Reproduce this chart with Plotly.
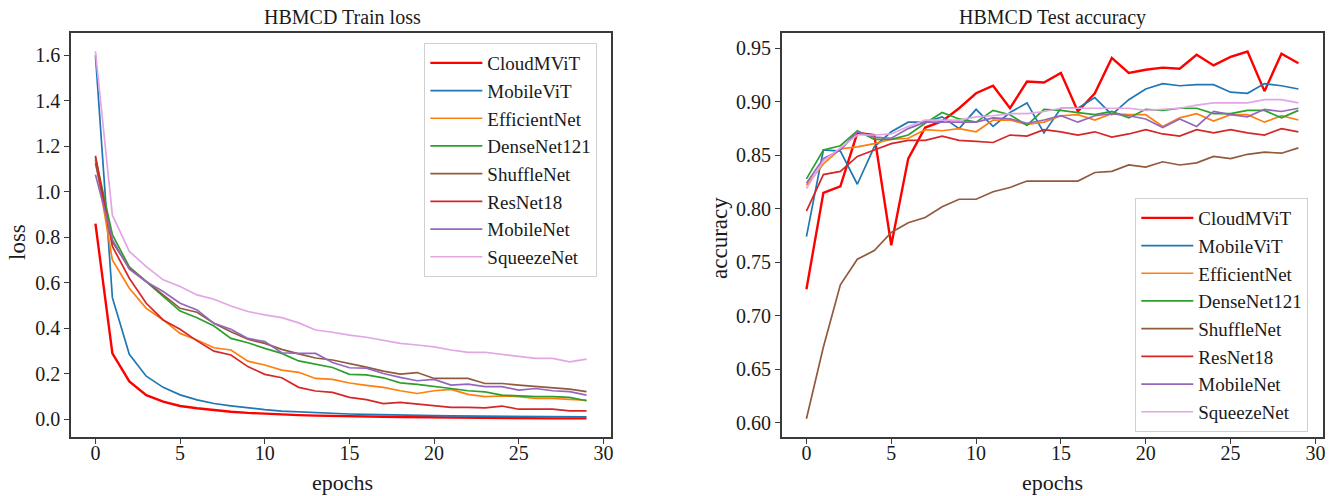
import plotly.graph_objects as go

W, H = 1341, 496

epochs = list(range(30))
model_names = ["CloudMViT", "MobileViT", "EfficientNet", "DenseNet121",
               "ShuffleNet", "ResNet18", "MobileNet", "SqueezeNet"]
colors = ["#ff0000", "#1f77b4", "#ff7f0e", "#2ca02c",
          "#925a3c", "#d62728", "#9467bd", "#e2a6e6"]

# ---- Train loss ----
loss_cloudmvit = [0.86, 0.29, 0.167, 0.107, 0.078, 0.059, 0.049, 0.040, 0.034, 0.029,
                  0.025, 0.022, 0.019, 0.017, 0.015, 0.014, 0.013, 0.012, 0.011, 0.010,
                  0.009, 0.008, 0.008, 0.007, 0.007, 0.006, 0.006, 0.005, 0.005, 0.005]
loss_mobilevit = [1.60, 0.535, 0.286, 0.19, 0.141, 0.108, 0.086, 0.070, 0.060, 0.050,
                  0.043, 0.037, 0.033, 0.029, 0.026, 0.024, 0.022, 0.020, 0.019, 0.018,
                  0.017, 0.016, 0.015, 0.014, 0.013, 0.013, 0.012, 0.012, 0.011, 0.011]
loss_efficientnet = [1.14, 0.70, 0.576, 0.488, 0.437, 0.378, 0.349, 0.315, 0.305, 0.256,
                     0.239, 0.217, 0.207, 0.180, 0.176, 0.160, 0.150, 0.141, 0.126, 0.114,
                     0.126, 0.132, 0.110, 0.100, 0.103, 0.100, 0.092, 0.092, 0.088, 0.085]
loss_densenet121 = [1.15, 0.811, 0.67, 0.605, 0.539, 0.476, 0.447, 0.41, 0.356, 0.337,
                    0.312, 0.29, 0.257, 0.244, 0.228, 0.198, 0.196, 0.183, 0.161, 0.154,
                    0.146, 0.136, 0.126, 0.121, 0.107, 0.103, 0.100, 0.100, 0.097, 0.082]
loss_shufflenet = [1.126, 0.78, 0.665, 0.605, 0.547, 0.488, 0.471, 0.422, 0.385, 0.352,
                   0.334, 0.308, 0.288, 0.27, 0.261, 0.246, 0.23, 0.212, 0.199, 0.206,
                   0.18, 0.18, 0.18, 0.158, 0.158, 0.151, 0.144, 0.139, 0.133, 0.122]
loss_resnet18 = [1.158, 0.76, 0.62, 0.51, 0.437, 0.396, 0.345, 0.30, 0.283, 0.232,
                 0.198, 0.183, 0.141, 0.125, 0.119, 0.097, 0.087, 0.07, 0.075, 0.067,
                 0.059, 0.053, 0.053, 0.051, 0.059, 0.045, 0.045, 0.045, 0.038, 0.038]
loss_mobilenet = [1.075, 0.79, 0.66, 0.605, 0.562, 0.51, 0.481, 0.422, 0.396, 0.356,
                  0.342, 0.293, 0.29, 0.29, 0.25, 0.227, 0.225, 0.202, 0.185, 0.17,
                  0.176, 0.151, 0.155, 0.144, 0.144, 0.129, 0.136, 0.126, 0.122, 0.107]
loss_squeezenet = [1.617, 0.897, 0.738, 0.671, 0.613, 0.584, 0.547, 0.528, 0.498, 0.474,
                   0.459, 0.447, 0.424, 0.393, 0.383, 0.37, 0.361, 0.346, 0.334, 0.327,
                   0.319, 0.305, 0.295, 0.295, 0.286, 0.28, 0.268, 0.268, 0.253, 0.265]

# ---- Test accuracy ----
acc_cloudmvit = [0.725, 0.815, 0.821, 0.871, 0.869, 0.766, 0.847, 0.876, 0.882, 0.894,
                 0.908, 0.915, 0.894, 0.919, 0.918, 0.927, 0.891, 0.908, 0.941, 0.927,
                 0.930, 0.932, 0.931, 0.944, 0.934, 0.942, 0.947, 0.910, 0.945, 0.936]
acc_mobilevit = [0.774, 0.855, 0.854, 0.823, 0.858, 0.872, 0.881, 0.881, 0.886, 0.875,
                 0.893, 0.877, 0.890, 0.899, 0.871, 0.894, 0.894, 0.904, 0.888, 0.902,
                 0.912, 0.917, 0.915, 0.916, 0.916, 0.909, 0.908, 0.917, 0.915, 0.912]
acc_efficientnet = [0.822, 0.842, 0.856, 0.858, 0.861, 0.865, 0.866, 0.874, 0.873, 0.875,
                    0.872, 0.883, 0.883, 0.879, 0.881, 0.887, 0.888, 0.883, 0.889, 0.888,
                    0.888, 0.877, 0.885, 0.889, 0.882, 0.888, 0.888, 0.881, 0.887, 0.883]
acc_densenet121 = [0.828, 0.855, 0.859, 0.873, 0.865, 0.865, 0.869, 0.880, 0.890, 0.884,
                   0.881, 0.892, 0.888, 0.878, 0.893, 0.892, 0.890, 0.888, 0.891, 0.885,
                   0.893, 0.892, 0.894, 0.894, 0.889, 0.889, 0.892, 0.892, 0.885, 0.892]
acc_shufflenet = [0.604, 0.671, 0.729, 0.753, 0.761, 0.778, 0.787, 0.792, 0.802, 0.809,
                  0.809, 0.816, 0.820, 0.826, 0.826, 0.826, 0.826, 0.834, 0.835, 0.841,
                  0.839, 0.844, 0.841, 0.843, 0.849, 0.847, 0.851, 0.853, 0.852, 0.857]
acc_resnet18 = [0.798, 0.832, 0.835, 0.849, 0.855, 0.861, 0.864, 0.864, 0.868, 0.864,
                0.863, 0.862, 0.869, 0.868, 0.874, 0.872, 0.869, 0.872, 0.867, 0.870,
                0.874, 0.870, 0.868, 0.874, 0.871, 0.874, 0.871, 0.869, 0.875, 0.872]
acc_mobilenet = [0.824, 0.847, 0.855, 0.872, 0.867, 0.866, 0.875, 0.881, 0.881, 0.881,
                 0.881, 0.885, 0.884, 0.880, 0.883, 0.887, 0.881, 0.887, 0.889, 0.887,
                 0.884, 0.876, 0.884, 0.877, 0.891, 0.888, 0.886, 0.893, 0.891, 0.894]
acc_squeezenet = [0.819, 0.845, 0.857, 0.869, 0.869, 0.870, 0.877, 0.883, 0.883, 0.883,
                  0.886, 0.887, 0.889, 0.889, 0.891, 0.894, 0.894, 0.894, 0.894, 0.894,
                  0.892, 0.893, 0.894, 0.897, 0.899, 0.899, 0.899, 0.902, 0.902, 0.899]

loss_series = [loss_cloudmvit, loss_mobilevit, loss_efficientnet, loss_densenet121,
               loss_shufflenet, loss_resnet18, loss_mobilenet, loss_squeezenet]
acc_series = [acc_cloudmvit, acc_mobilevit, acc_efficientnet, acc_densenet121,
              acc_shufflenet, acc_resnet18, acc_mobilenet, acc_squeezenet]

loss_ticks = [0.0, 0.2, 0.4, 0.6, 0.8, 1.0, 1.2, 1.4, 1.6]
acc_ticks = [0.60, 0.65, 0.70, 0.75, 0.80, 0.85, 0.90, 0.95]
epoch_ticks = [0, 5, 10, 15, 20, 25, 30]

FONT = "Liberation Serif"
TXT = "#1a1a1a"

fig = go.Figure()
for name, vals, col in zip(model_names, loss_series, colors):
    fig.add_trace(go.Scatter(x=epochs, y=vals, mode="lines", name=name,
                             line=dict(color=col, width=2.4 if name == "CloudMViT" else 1.7),
                             xaxis="x", yaxis="y", legend="legend"))
for name, vals, col in zip(model_names, acc_series, colors):
    fig.add_trace(go.Scatter(x=epochs, y=vals, mode="lines", name=name,
                             line=dict(color=col, width=2.4 if name == "CloudMViT" else 1.7),
                             xaxis="x2", yaxis="y2", legend="legend2"))

def px(x):
    return x / W

def py(y):
    return 1 - y / H

axis_common = dict(showline=True, mirror=True, linecolor="#3a3a3a", linewidth=1.5,
                   ticks="outside", ticklen=5, tickwidth=1.2, tickcolor="#3a3a3a",
                   showgrid=False, zeroline=False,
                   tickfont=dict(family=FONT, size=20, color=TXT))

legend_common = dict(font=dict(family=FONT, size=19, color=TXT),
                     bgcolor="rgba(255,255,255,0.85)", bordercolor="#d0d0d0", borderwidth=1,
                     xanchor="left", yanchor="top", itemwidth=52, tracegroupgap=0)

fig.update_layout(
    width=W, height=H,
    margin=dict(l=0, r=0, t=0, b=0),
    paper_bgcolor="white", plot_bgcolor="white",
    font=dict(family=FONT, color=TXT),
    xaxis=dict(domain=[px(71), px(612)], range=[-1.45, 30.45], tickvals=epoch_ticks,
               anchor="y", ticklabelstandoff=-8, **axis_common),
    yaxis=dict(domain=[py(437), py(33)], range=[-0.077, 1.697], tickvals=loss_ticks,
               tickformat=".1f", anchor="x", **axis_common),
    xaxis2=dict(domain=[px(783), px(1325)], range=[-1.45, 30.45], tickvals=epoch_ticks,
                anchor="y2", ticklabelstandoff=-8, **axis_common),
    yaxis2=dict(domain=[py(437), py(33)], range=[0.5869, 0.9643], tickvals=acc_ticks,
                tickformat=".2f", anchor="x2", **axis_common),
    legend=dict(x=px(425), y=py(43), **legend_common),
    legend2=dict(x=px(1137), y=py(198), **legend_common),
    showlegend=True,
)

annots = [
    dict(text="HBMCD Train loss", x=px(343), y=py(17), font=dict(size=20)),
    dict(text="HBMCD Test accuracy", x=px(1054), y=py(17), font=dict(size=20)),
    dict(text="epochs", x=px(343), y=py(482), font=dict(size=22)),
    dict(text="epochs", x=px(1054), y=py(482), font=dict(size=22)),
    dict(text="loss", x=px(17), y=py(242), font=dict(size=23), textangle=-90),
    dict(text="accuracy", x=px(720), y=py(238), font=dict(size=23), textangle=-90),
]
for a in annots:
    f = dict(family=FONT, color=TXT)
    f.update(a.pop("font"))
    fig.add_annotation(xref="paper", yref="paper", showarrow=False,
                       xanchor="center", yanchor="middle", font=f, **a)

fig.write_html("out.html")
